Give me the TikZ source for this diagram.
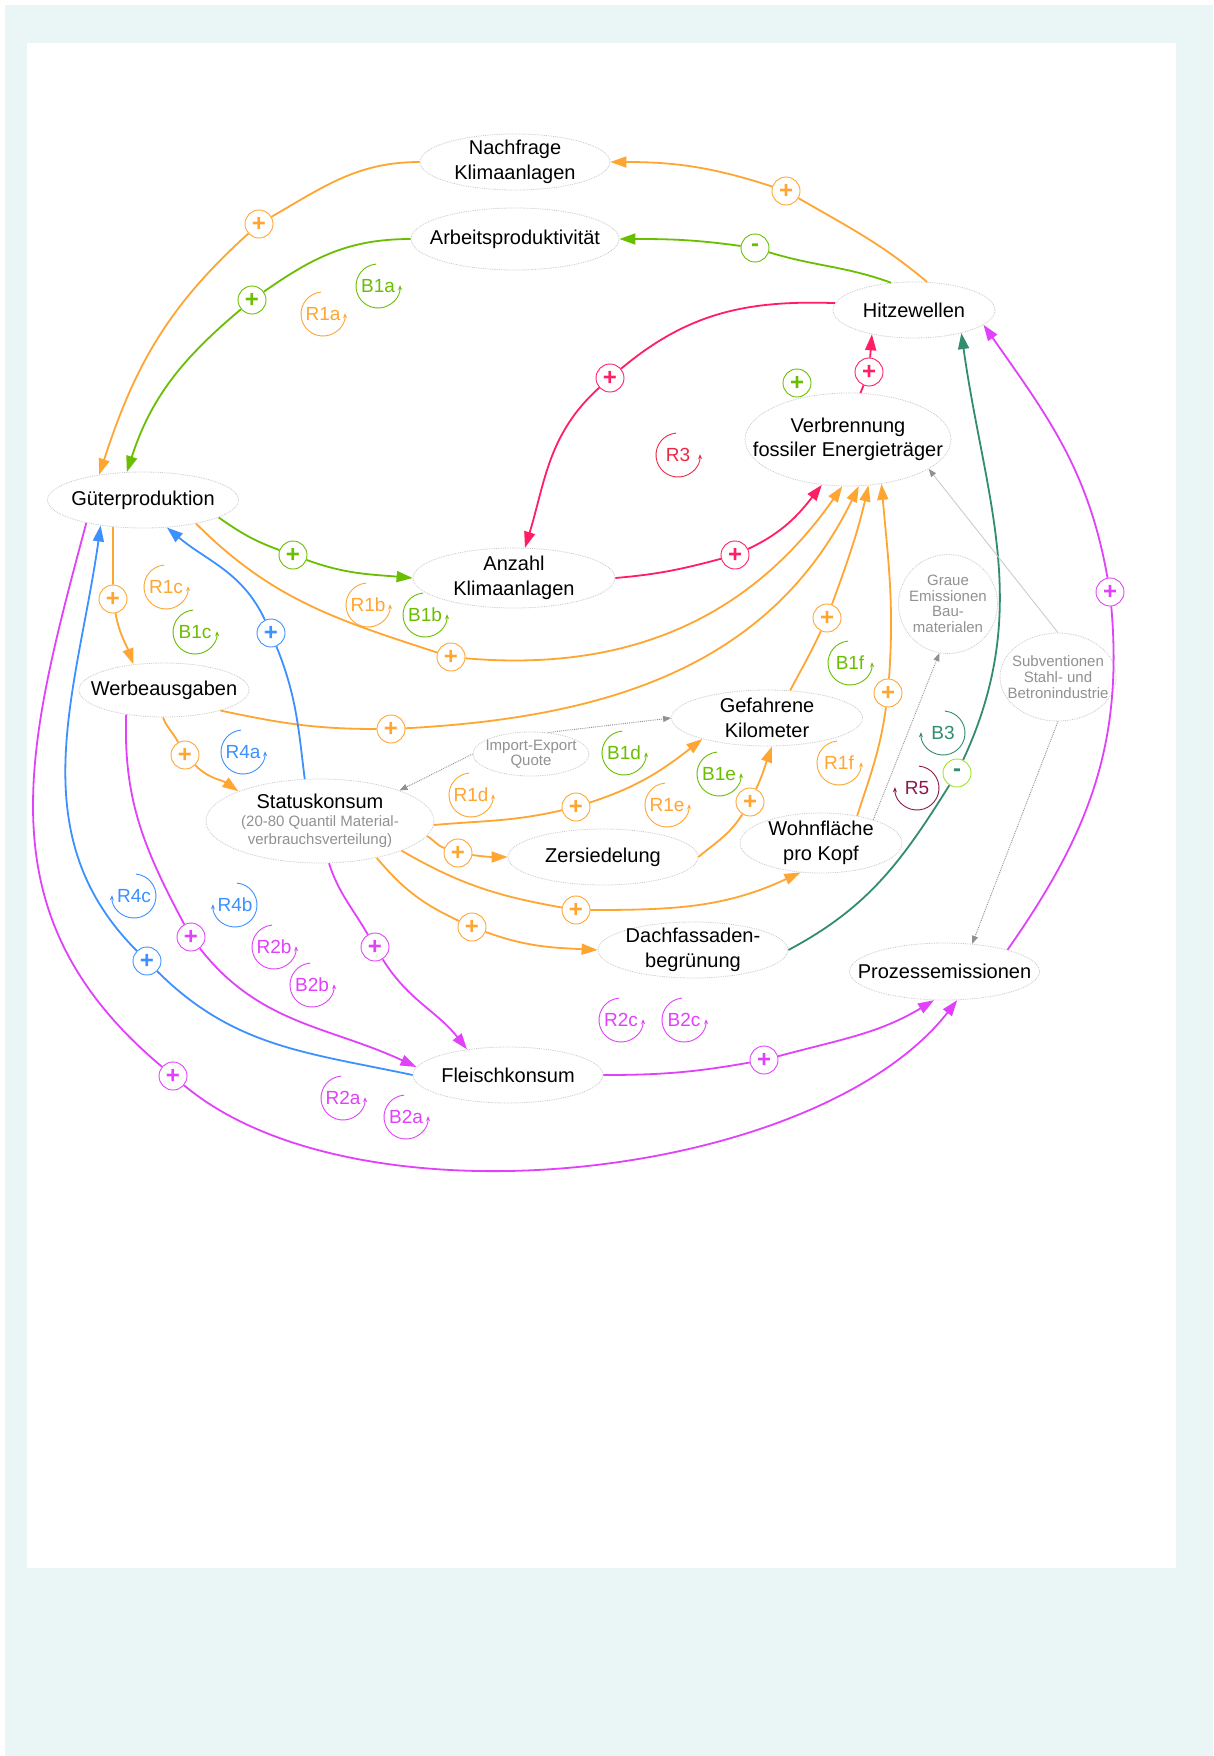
\documentclass[tikz,border=0pt]{standalone}
\usepackage{fontspec}
\setmainfont{Liberation Sans}
\usetikzlibrary{arrows.meta,shapes.geometric}

\definecolor{orgc}{RGB}{255,165,50}
\definecolor{grnc}{RGB}{106,190,0}
\definecolor{pnkc}{RGB}{255,30,100}
\definecolor{bluc}{RGB}{60,145,255}
\definecolor{magc}{RGB}{225,65,250}
\definecolor{tealc}{RGB}{50,140,110}
\definecolor{limec}{RGB}{165,225,40}
\definecolor{redc}{RGB}{235,40,70}
\definecolor{marc}{RGB}{140,25,75}
\definecolor{bgc}{RGB}{234,246,246}
\definecolor{grayt}{RGB}{145,145,145}

\begin{document}
\begin{tikzpicture}[x=1pt, y=1pt,
  var/.style={ellipse, draw=black!22, densely dotted, line width=0.8pt, fill=white,
    inner xsep=-40pt, inner ysep=-10pt, align=center, font=\fontsize{20}{24.5}\selectfont},
  gvar/.style={var, text=grayt, font=\fontsize{15}{15.5}\selectfont},
  pm/.style={circle, draw=#1, text=#1, fill=white, line width=0.9pt, minimum size=28pt,
    inner sep=0pt, font=\bfseries\fontsize{24}{24}\selectfont},
  lnk/.style={draw=#1, line width=1.8pt},
  arr/.style={lnk=#1, -{Triangle[length=16pt,width=11pt]}},
  gl/.style={draw=grayt, line width=0.9pt, densely dotted, -{Triangle[length=8pt,width=6pt]}},
  gsl/.style={draw=black!20, line width=0.9pt, -{Triangle[length=8pt,width=6pt,color=grayt]}},
  lbl/.style={text=#1, font=\fontsize{19}{19}\selectfont, inner sep=0pt},
  larc/.style={draw=#1, line width=0.9pt, -{Stealth[length=5pt,width=4pt]}}
]
  \useasboundingbox (0,0) rectangle (1213,-1756);

  % 背景
  \fill[white] (0,0) rectangle (1213,-1756);
  \fill[bgc] (5,-5) rectangle (1213,-1756);
  \fill[white] (27,-43) rectangle (1176,-1568);

  % ノード
  \node[var, minimum width=190pt, minimum height=56pt] (N) at (515,-162) {Nachfrage\\Klimaanlagen};
  \node[var, minimum width=208pt, minimum height=62pt] (A) at (515,-239) {Arbeitsproduktivität};
  \node[var, minimum width=162pt, minimum height=56pt] (H) at (914,-310) {Hitzewellen};
  \node[var, minimum width=206pt, minimum height=93pt] (V) at (848,-439.5) {Verbrennung\\fossiler Energieträger};
  \node[var, minimum width=191pt, minimum height=56pt] (G) at (143,-500) {Güterproduktion};
  \node[var, minimum width=202pt, minimum height=60pt] (K) at (514,-578) {Anzahl\\Klimaanlagen};
  \node[var, minimum width=170pt, minimum height=54pt] (W) at (164,-690) {Werbeausgaben};
  \node[var, font=\fontsize{15}{18}\selectfont, minimum width=228pt, minimum height=84pt] (S) at (320,-821)
    {{\fontsize{20}{20}\selectfont Statuskonsum}\\\textcolor{grayt}{(20-80 Quantil Material-}\\\textcolor{grayt}{verbrauchsverteilung)}};
  \node[gvar, minimum width=116pt, minimum height=44pt] (I) at (531,-754) {Import-Export\\Quote};
  \node[var, minimum width=191pt, minimum height=56pt] (F) at (767,-718) {Gefahrene\\Kilometer};
  \node[var, minimum width=190pt, minimum height=56pt] (Z) at (603,-857) {Zersiedelung};
  \node[var, minimum width=162pt, minimum height=60pt] (WP) at (821,-843) {Wohnfläche\\pro Kopf};
  \node[gvar, minimum width=99pt, minimum height=99pt] (GE) at (948,-604) {Graue\\Emissionen\\Bau-\\materialen};
  \node[gvar, font=\fontsize{15}{16}\selectfont, minimum width=116pt, minimum height=88pt] (SU) at (1058,-677) {Subventionen\\Stahl- und\\Betronindustrie};
  \node[var, minimum width=190pt, minimum height=56pt] (D) at (693,-950) {Dachfassaden-\\begrünung};
  \node[var, minimum width=190pt, minimum height=57pt] (P) at (944.5,-971.5) {Prozessemissionen};
  \node[var, minimum width=190pt, minimum height=56pt] (FL) at (508,-1075) {Fleischkonsum};

  % 極性
  \node[pm=orgc] (p1) at (786,-191) {+};
  \node[pm=orgc] (p2) at (259,-224) {+};
  \node[pm=grnc] (p3) at (755,-248) {-};
  \node[pm=grnc] (p4) at (252,-300) {+};
  \node[pm=pnkc] (p5) at (610,-378) {+};
  \node[pm=pnkc] (p6) at (735,-555) {+};
  \node[pm=pnkc] (p7) at (869,-372) {+};
  \node[pm=grnc] (p8) at (797,-383) {+};
  \node[pm=grnc] (p9) at (293,-555) {+};
  \node[pm=orgc] (p10) at (451,-657) {+};
  \node[pm=orgc] (p11) at (391,-729) {+};
  \node[pm=orgc] (p12) at (113,-599) {+};
  \node[pm=orgc] (p13) at (185,-755) {+};
  \node[pm=bluc] (p14) at (271,-633) {+};
  \node[pm=orgc] (p15) at (576,-807) {+};
  \node[pm=orgc] (p16) at (827,-618) {+};
  \node[pm=orgc] (p17) at (458,-853) {+};
  \node[pm=orgc] (p18) at (750,-802) {+};
  \node[pm=orgc] (p19) at (576,-910) {+};
  \node[pm=orgc] (p20) at (888,-693) {+};
  \node[pm=orgc] (p21) at (472,-927) {+};
  \node[pm=limec, text=tealc] (p22) at (957,-773) {-};
  \node[pm=magc] (p23) at (1110,-592) {+};
  \node[pm=magc] (p24) at (764,-1060) {+};
  \node[pm=magc] (p25) at (173,-1076) {+};
  \node[pm=magc] (p26) at (191,-937) {+};
  \node[pm=magc] (p27) at (375,-947) {+};
  \node[pm=bluc] (p28) at (147,-961) {+};

  % 線を引く
  \draw[lnk=orgc] (H.65) to[out=140,in=-30] (p1);
  \draw[arr=orgc] (p1) to[out=162,in=0] (N.east);
  \draw[lnk=orgc] (N.west) to[out=180,in=30] (p2);
  \draw[arr=orgc] (p2) to[out=222,in=72] (G.150);
  \draw[lnk=grnc] (H.130) to[out=160,in=-17] (p3);
  \draw[arr=grnc] (p3) to[out=172,in=0] (A.east);
  \draw[lnk=grnc] (A.west) to[out=180,in=35] (p4);
  \draw[arr=grnc] (p4) to[out=220,in=72] (G.120);

  \draw[lnk=pnkc] (H.175) to[out=178,in=40] (p5);
  \draw[arr=pnkc] (p5) to[out=222,in=73] (K.70);
  \draw[lnk=pnkc] (K.east) to[out=5,in=195] (p6);
  \draw[arr=pnkc] (p6) to[out=25,in=232] (V.240);
  \draw[lnk=pnkc] (V.75) -- (p7);
  \draw[arr=pnkc] (p7) -- (H.210);

  \draw[lnk=grnc] (G.-13) to[out=-35,in=160] (p9);
  \draw[arr=grnc] (p9) to[out=-20,in=175] (K.west);
  \draw[lnk=orgc] (G.-24) to[out=-45,in=162] (p10);
  \draw[arr=orgc] (p10) to[out=-5,in=235] (V.263);
  \draw[lnk=orgc] (W.-20) to[out=-12,in=180] (p11);
  \draw[arr=orgc] (p11) to[out=3,in=244] (V.283);
  \draw[lnk=orgc] (G.222) -- (p12);
  \draw[arr=orgc] (p12) to[out=-80,in=110] (W.140);
  \draw[lnk=orgc] (W.268) to[out=-70,in=118] (p13);
  \draw[arr=orgc] (p13) to[out=-45,in=145] (S.160);
  \draw[lnk=bluc] (S.110) to[out=97,in=-68] (p14);
  \draw[arr=bluc] (p14) to[out=115,in=-40] (G.-49);

  \draw[lnk=orgc] (S.-2) to[out=5,in=193] (p15);
  \draw[arr=orgc] (p15) to[out=18,in=218] (F.198);
  \draw[lnk=orgc] (F.50) to[out=62,in=245] (p16);
  \draw[arr=orgc] (p16) to[out=70,in=257] (V.294);
  \draw[lnk=orgc] (S.-8) to[out=-30,in=160] (p17);
  \draw[arr=orgc] (p17) to[out=-8,in=180] (Z.west);
  \draw[lnk=orgc] (Z.east) to[out=40,in=238] (p18);
  \draw[arr=orgc] (p18) to[out=65,in=250] (F.280);
  \draw[lnk=orgc] (S.-20) to[out=-30,in=170] (p19);
  \draw[arr=orgc] (p19) to[out=0,in=205] (WP.235);
  \draw[lnk=orgc] (WP.37) to[out=72,in=262] (p20);
  \draw[arr=orgc] (p20) to[out=86,in=275] (V.307);
  \draw[lnk=orgc] (S.-33) to[out=-50,in=155] (p21);
  \draw[arr=orgc] (p21) to[out=-20,in=177] (D.west);

  \draw[lnk=tealc] (D.east) to[out=28,in=238] (p22);
  \draw[arr=tealc] (p22) to[out=65,in=278] (H.-26);
  \draw[lnk=magc] (P.19) to[out=55,in=275] (p23);
  \draw[arr=magc] (p23) to[out=100,in=-55] (H.-12);
  \draw[lnk=magc] (FL.east) to[out=0,in=190] (p24);
  \draw[arr=magc] (p24) to[out=15,in=211] (P.250);
  \draw[lnk=magc] (G.202) to[out=255,in=140,looseness=1.1] (p25);
  \draw[arr=magc] (p25) to[out=-40,in=232,looseness=0.75] (P.294);
  \draw[lnk=magc] (W.213) to[out=268,in=118] (p26);
  \draw[arr=magc] (p26) to[out=-52,in=155] (FL.175);
  \draw[lnk=magc] (S.-78) to[out=-72,in=120] (p27);
  \draw[arr=magc] (p27) to[out=-58,in=128] (FL.148);
  \draw[lnk=bluc] (FL.west) to[out=168,in=-45] (p28);
  \draw[arr=bluc] (p28) to[out=135,in=262] (G.211);

  \draw[gl] (I.west) -- (S.21);
  \draw[gl] (I.52) -- (F.west);
  \draw[gl] (WP.24) -- (GE.260);
  \draw[gsl] (SU.north) -- (V.-20);
  \draw[gl] (SU.south) -- (P.45);

  % ループ
  \foreach \nm/\x/\y/\c in {R1a/323/314/orgc, B1a/378/286/grnc, R3/678/455/redc,
      R1c/166/587/orgc, B1c/195/632/grnc, R1b/368/605/orgc, B1b/425/615/grnc,
      R4a/243/752/bluc, R1d/471/795/orgc, B1d/624/753/grnc, B1e/719/774/grnc,
      R1e/667/805/orgc, R1f/839/763/orgc, B1f/850/663/grnc, R2b/274/947/magc,
      B2b/312/985/magc, R2c/621/1020/magc, B2c/684/1020/magc, R2a/343/1098/magc,
      B2a/406/1117/magc}
  {
    \node[lbl=\c] (\nm) at (\x,-\y) {\nm};
    \draw[larc=\c] (\x,-\y) ++(95:22) arc[start angle=95, end angle=362, radius=22];
  }
  \foreach \nm/\x/\y/\c in {R4c/134/896/bluc, R4b/235/905/bluc, B3/943/733/tealc, R5/917/788/marc}
  {
    \node[lbl=\c] (\nm) at (\x,-\y) {\nm};
    \draw[larc=\c] (\x,-\y) ++(85:22) arc[start angle=85, end angle=-182, radius=22];
  }
\end{tikzpicture}
\end{document}
